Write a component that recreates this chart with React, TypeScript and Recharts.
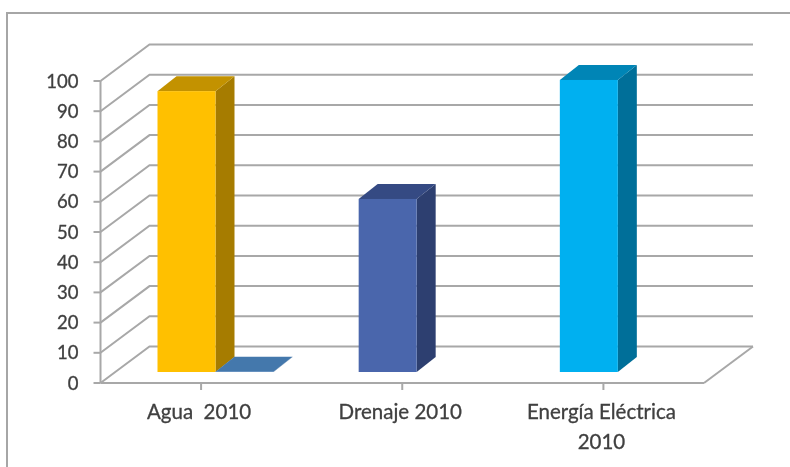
import { BarChart, Bar, XAxis, YAxis, CartesianGrid } from "recharts";

const categories = ["Agua  2010", "Drenaje 2010", "Energía Eléctrica 2010"];
const mainValues = [93, 57.3, 96.7];
const secondValues = [0.1, null, null];
const yTicks = [0, 10, 20, 30, 40, 50, 60, 70, 80, 90, 100];

const chartData = categories.map((name, i) => ({
  name,
  main: mainValues[i],
  second: secondValues[i],
}));

const MAIN_FACES = [
  { front: "#ffc000", side: "#a67c00", top: "#c39200" },
  { front: "#4a66ac", side: "#2d3f70", top: "#354a83" },
  { front: "#00b0f0", side: "#006f99", top: "#0085b6" },
];
const SECOND_FACES = [{ front: "#4a7ebb", side: "#2f5582", top: "#4478ac" }];

const LINE = "#a8a8a8";
const TEXT = "#404040";
// oblique offset of the back wall, and of the bars standing mid-floor
const WALL_DX = 49;
const WALL_DY = -36.5;
const BAR_DX = 14;
const BAR_DY = -11;
const DEPTH_X = 19;
const DEPTH_Y = -15;

function Bar3D(faces: typeof MAIN_FACES) {
  return (props: any) => {
    const { index, width, height } = props;
    const x = props.x + BAR_DX;
    const y = props.y + BAR_DY;
    const c = faces[index] ?? faces[0];
    const r = x + width;
    const b = y + height;
    return (
      <g>
        <polygon
          points={`${r},${y} ${r + DEPTH_X},${y + DEPTH_Y} ${r + DEPTH_X},${b + DEPTH_Y} ${r},${b}`}
          fill={c.side}
        />
        <polygon
          points={`${x},${y} ${x + DEPTH_X},${y + DEPTH_Y} ${r + DEPTH_X},${y + DEPTH_Y} ${r},${y}`}
          fill={c.top}
        />
        <rect x={x} y={y} width={width} height={height} fill={c.front} />
      </g>
    );
  };
}

function WallLine(props: any) {
  const { x1, x2, y1, y2 } = props;
  const isFloor = y1 > 380;
  return (
    <g>
      <polyline
        points={`${x1},${y1} ${x1 + WALL_DX},${y1 + WALL_DY} ${x2 + WALL_DX},${y2 + WALL_DY}`}
        fill="none"
        stroke={LINE}
        strokeWidth={2}
      />
      {isFloor && (
        <line
          x1={x2}
          y1={y2}
          x2={x2 + WALL_DX}
          y2={y2 + WALL_DY}
          stroke={LINE}
          strokeWidth={2}
        />
      )}
    </g>
  );
}

function CategoryTick({ x, y, payload }: any) {
  const label: string = payload.value;
  // only the long label wraps, on its last space
  const cut = label.length > 14 ? label.lastIndexOf(" ") : -1;
  const lines = cut > 0 ? [label.slice(0, cut), label.slice(cut + 1)] : [label];
  return (
    <text
      x={x - 2}
      y={y}
      textAnchor="middle"
      fill={TEXT}
      stroke={TEXT}
      strokeWidth={0.3}
      fontSize={20.5}
      style={{ whiteSpace: "pre" }}
    >
      {lines.map((line, i) => (
        <tspan key={line} x={x - 2} dy={i === 0 ? 27 : 30}>
          {line}
        </tspan>
      ))}
    </text>
  );
}

export default function App() {
  return (
    <div
      style={{
        position: "absolute",
        left: 0,
        top: 0,
        width: 790,
        height: 467,
        background: "#fff",
        overflow: "hidden",
        fontFamily: "Lato, sans-serif",
        filter: "blur(0.5px)",
      }}
    >
      <div
        style={{
          position: "absolute",
          left: 6,
          top: 12,
          width: 790,
          height: 467,
          border: "2px solid #a6a6a6",
        }}
      />
      <BarChart
        width={790}
        height={467}
        data={chartData}
        margin={{ top: 81, right: 86, bottom: 44, left: 40 }}
        barSize={58}
        barGap={0}
        style={{ position: "absolute", left: 0, top: 0 }}
      >
        <CartesianGrid vertical={false} horizontal={(p: any) => <WallLine key={p.key} {...p} />} />
        <XAxis
          dataKey="name"
          stroke={LINE}
          strokeWidth={2}
          tickSize={7}
          tick={<CategoryTick />}
          interval={0}
          height={40}
        />
        <YAxis
          width={60.5}
          domain={[0, 100]}
          ticks={yTicks}
          interval={0}
          stroke={LINE}
          strokeWidth={2}
          tickSize={7}
          tickMargin={15}
          tick={{ fill: TEXT, stroke: TEXT, strokeWidth: 0.3, fontSize: 18.5 }}
        />
        <Bar dataKey="main" isAnimationActive={false} shape={Bar3D(MAIN_FACES)} />
        <Bar dataKey="second" isAnimationActive={false} shape={Bar3D(SECOND_FACES)} />
      </BarChart>
    </div>
  );
}
